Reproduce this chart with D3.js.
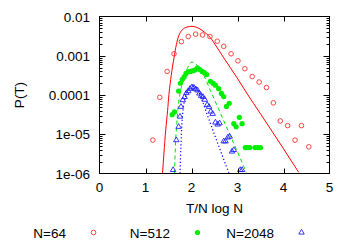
<!DOCTYPE html>
<html>
<head>
<meta charset="utf-8">
<script src="https://cdn.jsdelivr.net/npm/d3@7"></script>
<style>
  body { margin: 0; background: #fff; }
  text { font-family: "Liberation Sans", Arial, sans-serif; font-size: 13.5px; fill: #000; }
</style>
</head>
<body>
<svg id="chart" width="350" height="245"></svg>
<script>
// tick labels
var xTicks = [0, 1, 2, 3, 4, 5];
var yTicks = [1e-6, 1e-5, 1e-4, 1e-3, 1e-2];
var yTickLabels = ["1e-06", "1e-05", "0.0001", "0.001", "0.01"];
var seriesNames = ["N=64", "N=512", "N=2048"];

// N=64 histogram (x, log10 P)
var n64X = [1.16, 1.31, 1.47, 1.62, 1.78, 1.93, 2.09, 2.24, 2.40, 2.56, 2.70, 2.86,
            3.01, 3.16, 3.32, 3.47, 3.63, 3.78, 3.93, 4.09, 4.25, 4.39, 4.55];
var n64LogP = [-5.15, -4.06, -3.40, -2.95, -2.64, -2.51, -2.45, -2.47, -2.51, -2.63, -2.76, -2.95,
               -3.13, -3.33, -3.53, -3.67, -3.81, -4.20, -4.66, -4.78, -5.15, -4.78, -5.32];

// N=512
var n512X = [1.58, 1.63, 1.72, 1.76, 1.80, 1.84, 1.88, 1.93, 1.98, 2.03, 2.08, 2.13,
             2.18, 2.23, 2.28, 2.33, 2.41, 2.47, 2.52, 2.59, 2.65, 2.70, 2.76, 2.82,
             2.92, 2.97, 3.04, 3.10, 3.17, 3.22, 3.27, 3.38, 3.44, 3.50];
var n512LogP = [-4.50, -4.43, -3.90, -3.70, -3.60, -3.54, -3.45, -3.41, -3.40, -3.38, -3.36, -3.31,
                -3.35, -3.40, -3.43, -3.48, -3.65, -3.70, -3.75, -3.84, -3.96, -4.04, -4.29, -4.21,
                -4.73, -4.81, -4.57, -4.73, -5.34, -5.34, -5.34, -5.34, -5.34, -5.34];

// N=2048
var n2048X = [1.60, 1.67, 1.72, 1.75, 1.77, 1.81, 1.85, 1.89, 1.93, 1.97, 2.01, 2.05,
              2.09, 2.13, 2.17, 2.21, 2.25, 2.29, 2.34, 2.38, 2.42, 2.46, 2.52, 2.57,
              2.61, 2.70, 2.74, 2.79, 2.83, 2.88, 2.92, 3.06, 3.10];
var n2048LogP = [-5.91, -5.15, -4.81, -4.55, -4.30, -4.13, -4.05, -3.95, -3.90, -3.84, -3.80, -3.81,
                 -3.85, -3.88, -3.96, -4.02, -4.05, -4.12, -4.25, -4.30, -4.42, -4.48, -4.70, -4.75,
                 -4.72, -5.18, -5.18, -5.08, -5.06, -5.44, -5.40, -5.91, -5.91];

// fitted curves
var fit64X = [1.37, 1.40, 1.44, 1.48, 1.51, 1.56, 1.62, 1.67, 1.72, 1.80, 1.90, 2.01,
              2.12, 2.25, 2.41, 2.55, 2.70, 2.99, 3.20, 3.50, 3.72, 4.00, 4.33];
var fit64LogP = [-6.0, -5.5, -4.89, -4.4, -3.98, -3.5, -3.05, -2.72, -2.50, -2.34, -2.27, -2.25,
                 -2.28, -2.37, -2.54, -2.78, -3.05, -3.56, -3.95, -4.48, -4.87, -5.37, -5.97];
var fit512X = [1.63, 1.65, 1.68, 1.72, 1.76, 1.80, 1.85, 1.91, 2.01, 2.10, 2.18, 2.27,
               2.41, 2.56, 2.80, 3.00, 3.19];
var fit512LogP = [-6.0, -5.3, -4.72, -4.2, -3.9, -3.72, -3.50, -3.32, -3.16, -3.22, -3.33, -3.51,
                  -3.88, -4.28, -4.92, -5.45, -5.97];
var fit2048X = [1.75, 1.77, 1.79, 1.82, 1.87, 1.93, 2.01, 2.09, 2.18, 2.28, 2.45, 2.63, 2.81];
var fit2048LogP = [-6.0, -5.3, -4.75, -4.35, -4.05, -3.86, -3.76, -3.80, -3.98, -4.30, -4.85, -5.42, -5.98];

var svg = d3.select("#chart");
var plotL = 99.5, plotR = 329.5, plotT = 16.5, plotB = 173.5;

var x = d3.scaleLinear().domain([0, 5]).range([plotL, plotR]);
var y = d3.scaleLog().domain([1e-6, 1e-2]).range([plotB, plotT]);

function pts(xs, logs) {
  return xs.map((v, i) => ({ x: v, p: Math.pow(10, logs[i]) }));
}

svg.append("clipPath").attr("id", "clip")
  .append("rect")
    .attr("x", plotL).attr("y", plotT)
    .attr("width", plotR - plotL).attr("height", plotB - plotT);

var plot = svg.append("g").attr("clip-path", "url(#clip)");

var line = d3.line()
  .x(d => x(d.x))
  .y(d => y(d.p))
  .curve(d3.curveMonotoneX);

// fits
plot.append("path")
    .datum(pts(fit64X, fit64LogP))
    .attr("d", line)
    .attr("fill", "none")
    .attr("stroke", "#ff0000")
    .attr("stroke-width", 1);

plot.append("path")
    .datum(pts(fit512X, fit512LogP))
    .attr("d", line)
    .attr("fill", "none")
    .attr("stroke", "#00dd00")
    .attr("stroke-width", 1)
    .attr("stroke-dasharray", "4,3");

plot.append("path")
    .datum(pts(fit2048X, fit2048LogP))
    .attr("d", line)
    .attr("fill", "none")
    .attr("stroke", "#0000ff")
    .attr("stroke-width", 1.2)
    .attr("stroke-dasharray", "1.2,2.3");

// data points
plot.selectAll(".p64")
  .data(pts(n64X, n64LogP))
  .enter().append("circle")
    .attr("cx", d => x(d.x))
    .attr("cy", d => y(d.p))
    .attr("r", 2.3)
    .attr("fill", "none")
    .attr("stroke", "#ff3030")
    .attr("stroke-width", 0.9);

plot.selectAll(".p512")
  .data(pts(n512X, n512LogP))
  .enter().append("circle")
    .attr("cx", d => x(d.x))
    .attr("cy", d => y(d.p))
    .attr("r", 2.6)
    .attr("fill", "#00ee00");

var tri = d3.symbol().type(d3.symbolTriangle).size(13);

plot.selectAll(".p2048")
  .data(pts(n2048X, n2048LogP))
  .enter().append("path")
    .attr("d", tri)
    .attr("transform", d => "translate(" + x(d.x) + "," + y(d.p) + ")")
    .attr("fill", "none")
    .attr("stroke", "#2020ff")
    .attr("stroke-width", 0.9);

// frame
svg.append("rect")
    .attr("x", plotL).attr("y", plotT)
    .attr("width", plotR - plotL).attr("height", plotB - plotT)
    .attr("fill", "none")
    .attr("stroke", "#000")
    .attr("stroke-width", 1);

// x ticks, inward on bottom and top
var inner = xTicks.slice(1, -1);
svg.selectAll(".xt")
  .data(inner)
  .enter().append("line")
    .attr("x1", d => Math.round(x(d)) + 0.5).attr("x2", d => Math.round(x(d)) + 0.5)
    .attr("y1", plotB).attr("y2", plotB - 5)
    .attr("stroke", "#000");
svg.selectAll(".xtt")
  .data(inner)
  .enter().append("line")
    .attr("x1", d => Math.round(x(d)) + 0.5).attr("x2", d => Math.round(x(d)) + 0.5)
    .attr("y1", plotT).attr("y2", plotT + 5)
    .attr("stroke", "#000");

svg.selectAll(".xl")
  .data(xTicks)
  .enter().append("text")
    .attr("x", d => x(d))
    .attr("y", 191.5)
    .attr("text-anchor", "middle")
    .text(d => d);

// y ticks: majors and minors on both sides
var minors = [];
yTicks.slice(0, -1).forEach(t => {
  for (var k = 2; k <= 9; k++) minors.push(t * k);
});
function yLine(v) { return Math.round(y(v)) + 0.5; }
[[plotL, 1], [plotR, -1]].forEach(side => {
  svg.selectAll(null)
    .data(yTicks.slice(1, -1))
    .enter().append("line")
      .attr("x1", side[0]).attr("x2", side[0] + side[1] * 6)
      .attr("y1", yLine).attr("y2", yLine)
      .attr("stroke", "#000");
  svg.selectAll(null)
    .data(minors)
    .enter().append("line")
      .attr("x1", side[0]).attr("x2", side[0] + side[1] * 3)
      .attr("y1", yLine).attr("y2", yLine)
      .attr("stroke", "#000");
});

svg.selectAll(".yl")
  .data(yTicks)
  .enter().append("text")
    .attr("x", 90)
    .attr("y", d => y(d) + 5)
    .attr("text-anchor", "end")
    .text((d, i) => yTickLabels[i]);

svg.append("text")
    .attr("transform", "translate(24," + ((plotT + plotB) / 2) + ") rotate(-90)")
    .attr("text-anchor", "middle")
    .text("P(T)");

svg.append("text")
    .attr("x", (plotL + plotR) / 2)
    .attr("y", 213)
    .attr("text-anchor", "middle")
    .text("T/N log N");

// legend
var legX = [66, 170, 274];
var legY = 232.5;
svg.selectAll(".lg")
  .data(seriesNames)
  .enter().append("text")
    .attr("x", (d, i) => legX[i])
    .attr("y", legY + 5)
    .attr("text-anchor", "end")
    .text(d => d);

svg.append("circle")
    .attr("cx", legX[0] + 27.5).attr("cy", legY).attr("r", 2.3)
    .attr("fill", "none").attr("stroke", "#ff3030").attr("stroke-width", 0.9);
svg.append("circle")
    .attr("cx", legX[1] + 27.5).attr("cy", legY).attr("r", 2.6)
    .attr("fill", "#00ee00");
svg.append("path")
    .attr("d", tri)
    .attr("transform", "translate(" + (legX[2] + 27.5) + "," + legY + ")")
    .attr("fill", "none").attr("stroke", "#2020ff").attr("stroke-width", 0.9);
</script>
</body>
</html>
